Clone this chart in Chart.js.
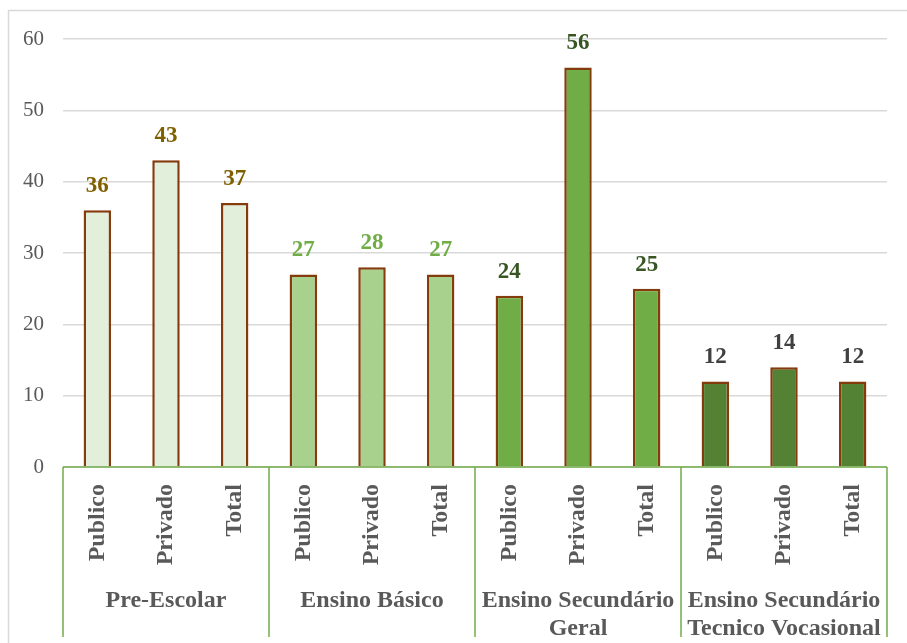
<!DOCTYPE html>
<html><head><meta charset="utf-8">
<script src="https://cdn.jsdelivr.net/npm/chart.js@4.4.0/dist/chart.umd.min.js"></script>
<style>html,body{margin:0;padding:0;background:#fff;} canvas{display:block}</style>
</head><body>
<canvas id="c" width="907" height="643"></canvas>
<script>
const groupLabels = [['Pre-Escolar'], ['Ensino Básico'], ['Ensino Secundário', 'Geral'], ['Ensino Secundário', 'Tecnico Vocasional']];
const subLabels = ['Publico', 'Privado', 'Total'];
const values = [36, 43, 37, 27, 28, 27, 24, 56, 25, 12, 14, 12];
const yTicks = [0, 10, 20, 30, 40, 50, 60];

const groupFill = ['#E2EFDA', '#A9D18E', '#70AD47', '#548235'];
const groupValueColor = ['#7F6000', '#70AD47', '#375623', '#404040'];

const labels = [];
const fills = [];
const valueColors = [];
groupLabels.forEach((g, gi) => {
  subLabels.forEach(s => { labels.push(s); fills.push(groupFill[gi]); valueColors.push(groupValueColor[gi]); });
});

const SERIF = '"Liberation Serif", "Times New Roman", serif';
const TEXT = '#595959';
const AXIS_GREEN = '#70AD47';

const decor = {
  id: 'decor',
  beforeDraw(chart) {
    const ctx = chart.ctx;
    ctx.save();
    ctx.strokeStyle = '#D9D9D9';
    ctx.lineWidth = 1.5;
    ctx.beginPath();
    ctx.moveTo(8.5, 643);
    ctx.lineTo(8.5, 10.5);
    ctx.lineTo(907, 10.5);
    ctx.stroke();
    ctx.restore();
  },
  afterDatasetsDraw(chart) {
    const ctx = chart.ctx;
    const xs = chart.scales.x;
    const area = chart.chartArea;
    const meta = chart.getDatasetMeta(0);
    ctx.save();
    // value labels
    ctx.font = 'bold 23px ' + SERIF;
    ctx.textAlign = 'center';
    ctx.textBaseline = 'middle';
    meta.data.forEach((bar, i) => {
      ctx.fillStyle = valueColors[i];
      ctx.fillText(String(values[i]), bar.x, bar.y - 24);
    });
    // axis line
    ctx.strokeStyle = AXIS_GREEN;
    ctx.lineWidth = 1.5;
    ctx.beginPath();
    ctx.moveTo(area.left, area.bottom);
    ctx.lineTo(area.right, area.bottom);
    ctx.stroke();
    // group separators
    const n = groupLabels.length;
    const bounds = [];
    for (let g = 0; g <= n; g++) {
      let px;
      if (g === 0) px = area.left;
      else if (g === n) px = area.right;
      else px = (xs.getPixelForValue(g * 3 - 1) + xs.getPixelForValue(g * 3)) / 2;
      bounds.push(px);
      ctx.beginPath();
      ctx.moveTo(px, area.bottom);
      ctx.lineTo(px, 637);
      ctx.stroke();
    }
    // sub category labels (rotated)
    ctx.fillStyle = TEXT;
    ctx.font = 'bold 24px ' + SERIF;
    labels.forEach((l, i) => {
      const px = xs.getPixelForValue(i);
      ctx.save();
      ctx.translate(px, area.bottom + 17);
      ctx.rotate(-Math.PI / 2);
      ctx.textAlign = 'right';
      ctx.textBaseline = 'middle';
      ctx.fillText(l, 0, 0);
      ctx.restore();
    });
    // group labels
    ctx.textAlign = 'center';
    ctx.textBaseline = 'middle';
    groupLabels.forEach((lines, gi) => {
      const cx = (bounds[gi] + bounds[gi + 1]) / 2;
      lines.forEach((t, li) => {
        ctx.fillText(t, cx, 601 + li * 28);
      });
    });
    ctx.restore();
  }
};

new Chart(document.getElementById('c'), {
  type: 'bar',
  data: {
    labels: labels,
    datasets: [{
      data: values,
      backgroundColor: fills,
      borderColor: '#843C0C',
      borderWidth: 2.5,
      borderSkipped: 'bottom',
      barPercentage: 0.40,
      categoryPercentage: 1.0
    }]
  },
  options: {
    responsive: false,
    animation: false,
    devicePixelRatio: 1,
    layout: { padding: { top: 39, right: 20, bottom: 0, left: 0 } },
    plugins: { legend: { display: false }, tooltip: { enabled: false } },
    scales: {
      x: {
        grid: { display: false, drawTicks: false },
        border: { display: false },
        ticks: { display: false },
        afterFit(scale) { scale.height = 176; }
      },
      y: {
        min: 0,
        max: 60,
        afterBuildTicks(scale) { scale.ticks = yTicks.map(v => ({ value: v })); },
        afterFit(scale) { scale.width = 63; },
        grid: { color: '#D9D9D9', lineWidth: 1.5, drawTicks: false },
        border: { display: false },
        ticks: {
          color: TEXT,
          padding: 19,
          font: { family: SERIF, size: 21 }
        }
      }
    }
  },
  plugins: [decor]
});
</script>
</body></html>
